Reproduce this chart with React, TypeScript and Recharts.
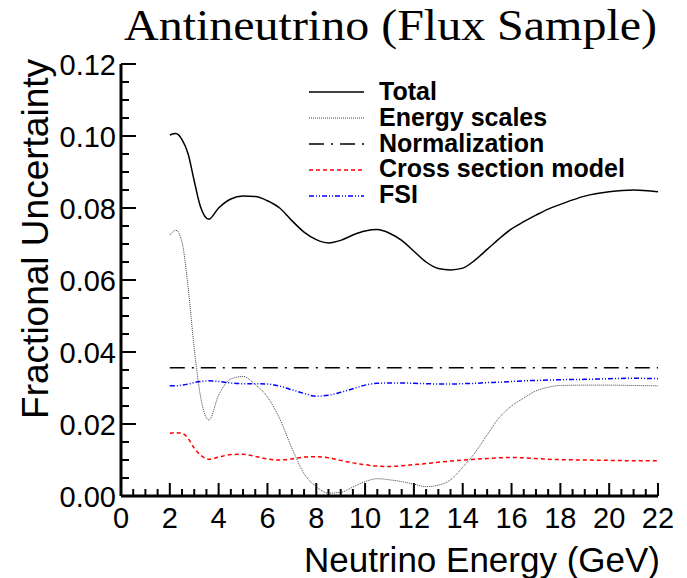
import React from 'react'
import { LineChart, Line, XAxis, YAxis, Legend } from 'recharts'

// neutrino energy (GeV) at which the systematic curves are read
const energies = [
  2, 2.25, 2.5, 2.75, 3, 3.25, 3.6, 4,
  4.5, 5, 5.5, 6, 6.5, 7, 7.5, 8, 8.5, 9, 9.5, 10, 10.5, 11, 11.5, 12, 12.5, 13, 13.5,
  14, 14.5, 15, 15.5, 16, 16.5, 17, 17.5, 18,
  19, 20, 21, 22,
]

const total = [
  0.1003, 0.1007, 0.099, 0.095, 0.0875, 0.0805, 0.0769, 0.08,
  0.0825, 0.0833, 0.0832, 0.082, 0.08, 0.0765, 0.0733, 0.0712, 0.0703, 0.071, 0.0725,
  0.0736, 0.074, 0.073, 0.071, 0.068, 0.065, 0.0632, 0.0628, 0.0633, 0.0655, 0.0685,
  0.0715, 0.0742, 0.0762, 0.078, 0.0797, 0.081,
  0.0833, 0.0845, 0.085, 0.0845,
]

const energyScales = [
  0.0725, 0.0738, 0.0705, 0.058, 0.041, 0.028, 0.0211, 0.028,
  0.0325, 0.0332, 0.031, 0.0275, 0.0215, 0.0133, 0.0062, 0.0026, 0.0008, 0.001, 0.0025,
  0.004, 0.0048, 0.0045, 0.004, 0.0033, 0.0026, 0.003, 0.0045, 0.008, 0.012, 0.017,
  0.0218, 0.025, 0.0272, 0.0292, 0.0302, 0.0307,
  0.0308, 0.0308, 0.0307, 0.0306,
]

const crossSection = [
  0.0174, 0.0176, 0.0174, 0.016, 0.0133, 0.0114, 0.0102, 0.0108,
  0.0115, 0.0116, 0.011, 0.0103, 0.01, 0.0103, 0.0108, 0.0109, 0.0106, 0.0099, 0.0092,
  0.0087, 0.0083, 0.0082, 0.0084, 0.0087, 0.009, 0.0094, 0.0097, 0.01, 0.0102, 0.0104,
  0.0106, 0.0107, 0.0106, 0.0104, 0.0102, 0.0101,
  0.01, 0.0099, 0.0098, 0.0098,
]

const fsi = [
  0.0306, 0.0306, 0.0308, 0.0311, 0.0315, 0.0318, 0.032, 0.0318,
  0.0314, 0.0312, 0.0312, 0.0311, 0.0305, 0.0295, 0.0285, 0.0277, 0.028, 0.0288, 0.0298,
  0.0308, 0.0313, 0.0314, 0.0314, 0.0313, 0.0312, 0.0311, 0.0311, 0.0312, 0.0313, 0.0315,
  0.0316, 0.0318, 0.032, 0.0321, 0.0322, 0.0323,
  0.0324, 0.0326, 0.0327, 0.0326,
]

// normalization is flat
const normEnergies = [2, 22]
const normalization = [0.0356, 0.0356]

const xTicks = [
  0, 0.5, 1, 1.5, 2, 2.5, 3, 3.5, 4, 4.5, 5, 5.5, 6, 6.5, 7, 7.5, 8, 8.5, 9, 9.5, 10, 10.5,
  11, 11.5, 12, 12.5, 13, 13.5, 14, 14.5, 15, 15.5, 16, 16.5, 17, 17.5, 18, 18.5, 19, 19.5,
  20, 20.5, 21, 21.5, 22,
]
const xLabels = [0, 2, 4, 6, 8, 10, 12, 14, 16, 18, 20, 22]

const yTicks = [
  0, 0.005, 0.01, 0.015, 0.02, 0.025, 0.03, 0.035, 0.04, 0.045, 0.05, 0.055, 0.06,
  0.065, 0.07, 0.075, 0.08, 0.085, 0.09, 0.095, 0.1, 0.105, 0.11, 0.115, 0.12,
]
const yLabels = ['0.00', '0.02', '0.04', '0.06', '0.08', '0.10', '0.12']

const data = energies.map((e, i) => ({
  e,
  total: total[i],
  energy: energyScales[i],
  xsec: crossSection[i],
  fsi: fsi[i],
}))
const normData = normEnergies.map((e, i) => ({ e, norm: normalization[i] }))

const SANS = '"Liberation Sans", Arial, Helvetica, sans-serif'

const legendItems = [
  { name: 'Total', color: '#000', dash: undefined, width: 1.5 },
  { name: 'Energy scales', color: '#444', dash: '1 1', width: 1 },
  { name: 'Normalization', color: '#000', dash: '15 7 2 7', width: 1.5 },
  { name: 'Cross section model', color: '#ff0000', dash: '4 3', width: 1.5 },
  { name: 'FSI', color: '#0000ff', dash: '5 2 1 2 1 2', width: 1.5 },
]

const XTick = (props: any) => {
  const { x, y, payload } = props
  const major = xLabels.includes(payload.value)
  return (
    <g>
      <line x1={x} y1={y} x2={x} y2={y - (major ? 13 : 7)} stroke="#000" strokeWidth={2} />
      {major && (
        <text x={x} y={y + 32} textAnchor="middle" fontSize={29} fontFamily={SANS} fill="#000">
          {payload.value}
        </text>
      )}
    </g>
  )
}

const YTick = (props: any) => {
  const { x, y, payload } = props
  const label = payload.value.toFixed(2)
  const major = yLabels.includes(label) && Math.abs(Number(label) - payload.value) < 1e-9
  return (
    <g>
      <line x1={x} y1={y} x2={x + (major ? 15 : 8)} y2={y} stroke="#000" strokeWidth={2} />
      {major && (
        <text x={x - 5} y={y + 11} textAnchor="end" fontSize={29} fontFamily={SANS} fill="#000">
          {label}
        </text>
      )}
    </g>
  )
}

const renderLegend = () => (
  <svg width={360} height={140}>
    {legendItems.map((s, i) => (
      <g key={s.name}>
        <line
          x1={9}
          x2={64}
          y1={17 + i * 26}
          y2={17 + i * 26}
          stroke={s.color}
          strokeWidth={s.width}
          strokeDasharray={s.dash}
        />
        <text x={79} y={25 + i * 25.8} fontSize={25} fontWeight="bold" fontFamily={SANS} fill="#000">
          {s.name}
        </text>
      </g>
    ))}
  </svg>
)

export default function App() {
  return (
    <div style={{ position: 'absolute', left: 0, top: 0, width: 687, height: 578, background: '#fff' }}>
      <LineChart
        width={687}
        height={578}
        data={data}
        margin={{ top: 64, right: 29, left: 61, bottom: 52 }}
      >
        <XAxis
          dataKey="e"
          type="number"
          domain={[0, 22]}
          ticks={xTicks}
          interval={0}
          tick={<XTick />}
          tickLine={false}
          tickSize={0}
          tickMargin={0}
          height={30}
          axisLine={{ stroke: '#000', strokeWidth: 3 }}
          allowDataOverflow
        />
        <XAxis
          xAxisId="top"
          orientation="top"
          type="number"
          domain={[0, 22]}
          tick={false}
          tickLine={false}
          height={0}
          axisLine={{ stroke: '#000', strokeWidth: 2 }}
        />
        <YAxis
          type="number"
          domain={[0, 0.12]}
          ticks={yTicks}
          interval={0}
          tick={<YTick />}
          tickLine={false}
          tickSize={0}
          tickMargin={0}
          width={60}
          axisLine={{ stroke: '#000', strokeWidth: 3 }}
          allowDataOverflow
        />
        <YAxis
          yAxisId="right"
          orientation="right"
          type="number"
          domain={[0, 0.12]}
          tick={false}
          tickLine={false}
          width={0}
          axisLine={{ stroke: '#000', strokeWidth: 2 }}
        />
        <Legend
          layout="horizontal"
          verticalAlign="middle"
          align="center"
          content={renderLegend}
          wrapperStyle={{ position: 'absolute', left: 300, top: 75, width: 360, height: 140 }}
        />
        <Line type="monotone" dataKey="total" name="Total" stroke="#000" strokeWidth={1.5} dot={false} isAnimationActive={false} />
        <Line type="monotone" dataKey="energy" name="Energy scales" stroke="#444" strokeWidth={1} strokeDasharray="1 1" dot={false} isAnimationActive={false} />
        <Line type="linear" data={normData} dataKey="norm" name="Normalization" stroke="#000" strokeWidth={1.5} strokeDasharray="15 7 2 7" dot={false} isAnimationActive={false} />
        <Line type="monotone" dataKey="xsec" name="Cross section model" stroke="#ff0000" strokeWidth={1.5} strokeDasharray="4 3" dot={false} isAnimationActive={false} />
        <Line type="monotone" dataKey="fsi" name="FSI" stroke="#0000ff" strokeWidth={1.5} strokeDasharray="5 2 1 2 1 2" dot={false} isAnimationActive={false} />
      </LineChart>
      <svg width={687} height={578} style={{ position: 'absolute', left: 0, top: 0, pointerEvents: 'none' }}>
        <text x={124} y={40} fontSize={45} fontFamily='"Liberation Serif", "Times New Roman", serif' textLength={533} lengthAdjust="spacingAndGlyphs" fill="#000">
          Antineutrino (Flux Sample)
        </text>
        <text x={660} y={572} textAnchor="end" fontSize={35} fontFamily={SANS} fill="#000">
          Neutrino Energy (GeV)
        </text>
        <text transform="translate(48, 59) rotate(-90)" textAnchor="end" fontSize={37} fontFamily={SANS} fill="#000">
          Fractional Uncertainty
        </text>
      </svg>
    </div>
  )
}
